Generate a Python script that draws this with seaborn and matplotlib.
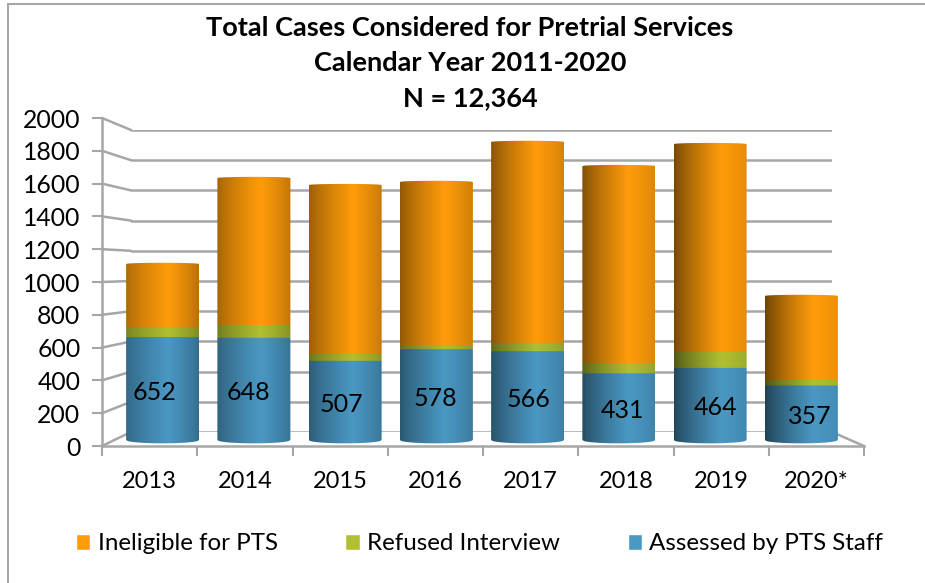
import numpy as np
import seaborn as sns
from matplotlib import pyplot as plt
from matplotlib.colors import to_rgb
from matplotlib.lines import Line2D
from matplotlib.path import Path
from matplotlib.patches import PathPatch

years = ["2013", "2014", "2015", "2016", "2017", "2018", "2019", "2020*"]
assessed = [652, 648, 507, 578, 566, 431, 464, 357]
refused = [61, 78, 42, 20, 50, 63, 97, 33]
ineligible = [385, 896, 1030, 1000, 1226, 1201, 1268, 513]
y_ticks = [0, 200, 400, 600, 800, 1000, 1200, 1400, 1600, 1800, 2000]

names = ["Assessed by PTS Staff", "Refused Interview", "Ineligible for PTS"]
colors = ["#4a98c4", "#b0c030", "#ff9c0a"]

W, H = 925, 583


def box(x0, x1, y_top, y_bot):
    # pixel box to figure fractions
    return [x0 / W, 1 - y_bot / H, (x1 - x0) / W, (y_bot - y_top) / H]


sns.set_style("white")
plt.rcParams["font.family"] = ["Lato", "DejaVu Sans"]
plt.rcParams["text.color"] = "black"
plt.rcParams["ytick.labelcolor"] = "black"

fig = plt.figure(figsize=(W / 100, H / 100), dpi=100)

# back wall of the 3D chart
ax_back = fig.add_axes(box(131, 832, 130, 432), zorder=1)
ax_back.set_ylim(0, 2000)
ax_back.set_yticks(y_ticks)
ax_back.set_xticks([])
ax_back.set_yticklabels([])
ax_back.grid(axis="y", color="#a6a6a6", lw=1.8)
ax_back.patch.set_alpha(0)
sns.despine(ax=ax_back, left=True, bottom=True)

# front axis with the labels
ax = fig.add_axes(box(102, 864, 118, 446), zorder=2)
ax.patch.set_alpha(0)
ax.set_ylim(0, 2000)
ax.set_xlim(0, len(years))
ax.set_yticks(y_ticks)
ax.set_xticks(range(len(years) + 1))
ax.set_xticklabels([""] * (len(years) + 1))
ax.tick_params(axis="y", labelsize=17.8, length=7, width=1.5, color="#a6a6a6", left=True, pad=8.5)
ax.tick_params(axis="x", length=7, width=1.5, color="#a6a6a6", bottom=True)
for i, year in enumerate(years):
    ax.text(i + 0.5, -215, year, ha="center", va="center", fontsize=17, color="black")
sns.despine(ax=ax, top=True, right=True)
ax.spines["left"].set_color("#a6a6a6")
ax.spines["left"].set_linewidth(1.8)
ax.spines["bottom"].set_color("#a6a6a6")
ax.spines["bottom"].set_linewidth(1.8)

# slanted lines joining the front axis to the back wall
for v in y_ticks:
    front = 446 - v * 328 / 2000
    back = 432 - v * 302 / 2000
    fig.add_artist(Line2D([102 / W, 131 / W], [1 - front / H, 1 - back / H], color="#a6a6a6", lw=1.8, zorder=1.5))
fig.add_artist(Line2D([832 / W, 864 / W], [1 - 432 / H, 1 - 446 / H], color="#a6a6a6", lw=1.8, zorder=1.5))

# bars sit on a plane between the front and back, room below zero for the round base
ax_bar = fig.add_axes(box(117, 847, 116, 452.2), zorder=3)
ax_bar.patch.set_alpha(0)
bottoms = np.zeros(len(years))
segments = []
for values, name, color in zip([assessed, refused, ineligible], names, colors):
    sns.barplot(x=years, y=values, bottom=bottoms, color=color, saturation=1, width=0.8,
                label=name, ax=ax_bar, legend=False)
    segments.append((list(bottoms), values, color))
    bottoms = bottoms + np.array(values)
ax_bar.axis("off")

# legend first, the flat bars get hidden below
handles, labels = ax_bar.get_legend_handles_labels()
fig.legend(handles[::-1], labels[::-1], ncol=3, loc="center left", bbox_to_anchor=(54 / W, 1 - 544 / H),
           frameon=False, fontsize=17.4, handlelength=0.6, handleheight=0.6, handletextpad=0.3,
           columnspacing=2.8)
for bar in ax_bar.patches:
    bar.set_visible(False)


def shade(color, i):
    # horizontal cylinder shading, light moves to the right along the chart
    f = i / (len(years) - 1)
    t = np.linspace(0, 1, 120)
    peak = 0.58 + 0.08 * f
    left = 0.68 - 0.26 * f
    right = 0.72 + 0.2 * f
    amount = np.where(t < peak, left + (1 - left) * (t / peak) ** 0.8,
                      right + (1 - right) * ((1 - t) / (1 - peak)) ** 0.8)
    rgb = np.array(to_rgb(color))
    return np.clip(rgb[None, None, :] * amount[None, :, None], 0, 1)


ry = 14
arc = np.linspace(-1, 1, 40)
for k in [2, 1, 0]:
    start, values, color = segments[k]
    for i, (b, v) in enumerate(zip(start, values)):
        x0, x1 = i - 0.4, i + 0.4
        xs = i + 0.4 * arc
        bend = np.sqrt(1 - arc ** 2)
        if k == 0:
            low = 24 - 20 * bend
        else:
            low = b - ry * bend
        top = b + v + (ry * 0.5 if k == 2 else 0) * bend
        verts = list(zip(xs, low)) + list(zip(xs[::-1], top[::-1])) + [(xs[0], low[0])]
        codes = [Path.MOVETO] + [Path.LINETO] * (len(verts) - 2) + [Path.CLOSEPOLY]
        clip = PathPatch(Path(verts, codes), transform=ax_bar.transData, fc="none", ec="none")
        ax_bar.add_patch(clip)
        im = ax_bar.imshow(shade(color, i), extent=(x0, x1, b - ry - 10, b + v + ry), aspect="auto",
                           zorder=3.5 + (2 - k) * 0.1, interpolation="bilinear")
        im.set_clip_path(clip)
ax_bar.set_ylim(-50, 2000)
ax_bar.set_xlim(-0.5, 7.5)

# value labels drift outward a little compared with the bars
for i, v in enumerate(assessed):
    ax_bar.text(3.5 + (i - 3.5) * 1.025, v / 2 - 12, str(v), ha="center", va="center", fontsize=18, color="black", zorder=6)

# title
title_font = dict(ha="center", va="center", fontsize=19.5, fontweight="bold", color="black")
fig.text(470 / W, 1 - 28 / H, "Total Cases Considered for Pretrial Services", **title_font)
fig.text(470 / W, 1 - 63 / H, "Calendar Year 2011-2020", **title_font)
fig.text(470 / W, 1 - 98 / H, "N = 12,364", **title_font)

# outer chart border, only top and left show
fig.add_artist(Line2D([8 / W, 8 / W], [0, 1 - 4 / H], color="#a6a6a6", lw=1.5))
fig.add_artist(Line2D([8 / W, 1], [1 - 4 / H, 1 - 4 / H], color="#a6a6a6", lw=1.5))

plt.savefig("out.png", dpi=100)
